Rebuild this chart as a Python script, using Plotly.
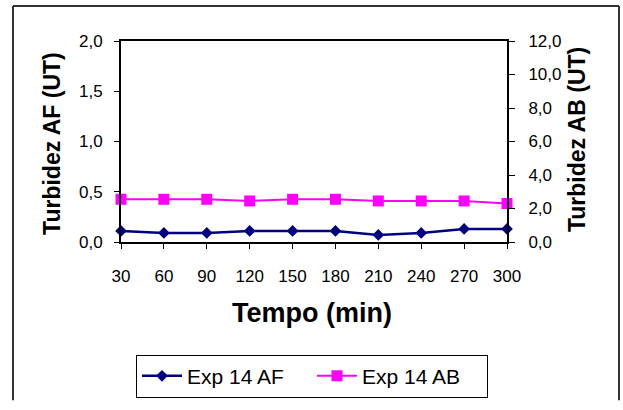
"""Turbidez AF / AB ao longo do tempo - Exp 14."""

import plotly.graph_objects as go

# Dados
tempo_min = [30, 60, 90, 120, 150, 180, 210, 240, 270, 300]
turbidez_af = [0.11, 0.09, 0.09, 0.11, 0.11, 0.11, 0.07, 0.09, 0.13, 0.13]
turbidez_ab = [2.55, 2.55, 2.55, 2.45, 2.55, 2.55, 2.45, 2.45, 2.45, 2.30]

af_ticks = [0, 0.5, 1.0, 1.5, 2.0]
af_ticktext = ["0,0", "0,5", "1,0", "1,5", "2,0"]
ab_ticks = [0, 2, 4, 6, 8, 10, 12]
ab_ticktext = ["0,0", "2,0", "4,0", "6,0", "8,0", "10,0", "12,0"]

FONT = "Liberation Sans, Arial, sans-serif"

# plot area in pixels: x 121..507, y 41..248
PL, PR, PT, PB = 121, 507, 41, 248
PW, PH = PR - PL, PB - PT


def px_x(x):
    return (x - PL) / PW


def px_y(y):
    return (PB - y) / PH


fig = go.Figure()

fig.add_trace(
    go.Scatter(
        x=tempo_min,
        y=turbidez_af,
        name="Exp 14 AF",
        mode="lines+markers",
        line=dict(color="#000080", width=2.5),
        marker=dict(symbol="diamond", size=9, color="#000080"),
        cliponaxis=False,
    )
)

fig.add_trace(
    go.Scatter(
        x=tempo_min,
        y=turbidez_ab,
        name="Exp 14 AB",
        mode="lines+markers",
        yaxis="y2",
        line=dict(color="#FF00FF", width=2),
        marker=dict(symbol="square", size=11, color="#FF00FF"),
        cliponaxis=False,
    )
)

# outer chart frame (bottom edge lies outside the picture)
frame = dict(color="#333333", width=2)
border = [
    dict(type="line", xref="paper", yref="paper",
         x0=px_x(13), x1=px_x(13), y0=px_y(411), y1=px_y(5), line=frame),
    dict(type="line", xref="paper", yref="paper",
         x0=px_x(13), x1=px_x(619), y0=px_y(5), y1=px_y(5), line=frame),
    dict(type="line", xref="paper", yref="paper",
         x0=px_x(619), x1=px_x(619), y0=px_y(411), y1=px_y(5), line=frame),
]

fig.update_layout(
    width=623,
    height=410,
    margin=dict(l=PL, r=623 - PR, t=PT, b=410 - PB),
    paper_bgcolor="white",
    plot_bgcolor="white",
    font=dict(family=FONT, size=17, color="black"),
    showlegend=True,
    legend=dict(
        orientation="h",
        x=px_x(312),
        xanchor="center",
        y=px_y(364),
        yanchor="top",
        bordercolor="black",
        borderwidth=1,
        font=dict(size=21, family=FONT),
        itemwidth=40,
        entrywidth=120,
        bgcolor="white",
    ),
    xaxis=dict(
        range=[30, 300],
        tickvals=tempo_min,
        ticks="outside",
        ticklen=5,
        tickcolor="black",
        ticklabelstandoff=13,
        showgrid=False,
        zeroline=False,
        showline=True,
        linecolor="black",
        linewidth=2,
        mirror=True,
    ),
    yaxis=dict(
        range=[0, 2.0],
        tickvals=af_ticks,
        ticktext=af_ticktext,
        ticks="outside",
        ticklen=5,
        tickcolor="black",
        ticklabelstandoff=8,
        showgrid=False,
        zeroline=False,
        showline=True,
        linecolor="black",
        linewidth=2,
    ),
    yaxis2=dict(
        range=[0, 12],
        tickvals=ab_ticks,
        ticktext=ab_ticktext,
        overlaying="y",
        side="right",
        ticks="outside",
        ticklen=6,
        tickcolor="black",
        ticklabelstandoff=10,
        showgrid=False,
        zeroline=False,
        showline=True,
        linecolor="black",
        linewidth=2,
    ),
    yaxis3=dict(
        range=[0, 12],
        tickvals=ab_ticks,
        overlaying="y",
        side="right",
        ticks="inside",
        ticklen=6,
        tickcolor="black",
        showticklabels=False,
        showgrid=False,
        zeroline=False,
        showline=False,
    ),
    shapes=border,
    annotations=[
        dict(
            text="<b>Turbidez AF (UT)</b>",
            xref="paper",
            yref="paper",
            x=px_x(52),
            y=px_y(147),
            textangle=-90,
            showarrow=False,
            font=dict(size=23, family=FONT),
            xanchor="center",
            yanchor="middle",
        ),
        dict(
            text="<b>Turbidez AB (UT)</b>",
            xref="paper",
            yref="paper",
            x=px_x(577),
            y=px_y(143),
            textangle=-90,
            showarrow=False,
            font=dict(size=23, family=FONT),
            xanchor="center",
            yanchor="middle",
        ),
        dict(
            text="<b>Tempo (min)</b>",
            xref="paper",
            yref="paper",
            x=px_x(312),
            y=px_y(321),
            showarrow=False,
            font=dict(size=27, family=FONT),
            xanchor="center",
            yanchor="middle",
        ),
    ],
)

fig.write_html(
    "out.html",
    config={"displayModeBar": False},
    post_script="document.body.style.margin='0';",
)
